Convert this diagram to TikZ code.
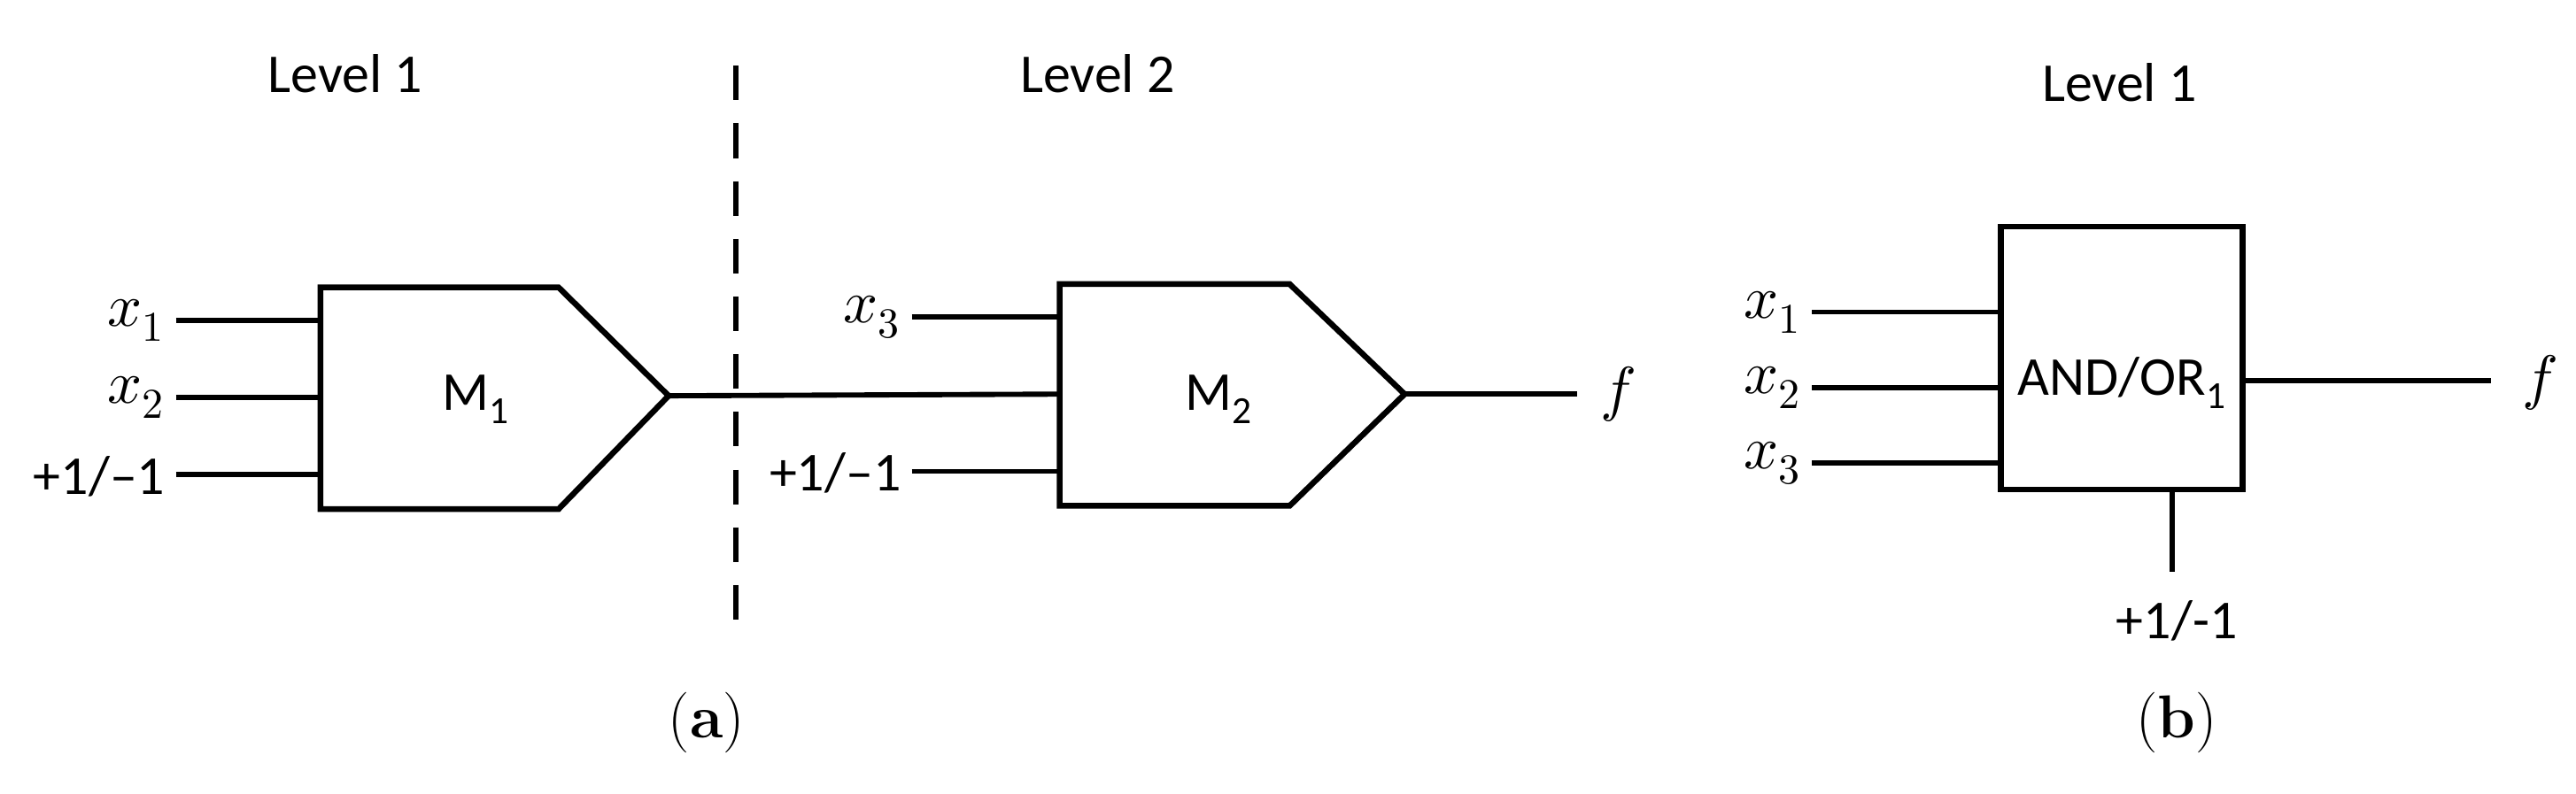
\documentclass[tikz,border=0pt]{standalone}
\usepackage{fontspec}
\setsansfont{Carlito}
\usepackage{unicode-math}
\begin{document}
\begin{tikzpicture}[x=0.02cm,y=-0.02cm,line width=1.8pt,
  lbl/.style={font=\fontsize{19}{22}\selectfont\sffamily,inner sep=0pt},
  mth/.style={font=\fontsize{21}{24}\selectfont,inner sep=0pt,anchor=east},
  captxt/.style={font=\fontsize{21}{24}\selectfont,inner sep=0pt}]
\useasboundingbox (0,0) rectangle (1568,483);
\node[lbl] (L1) at (210,45) {Level 1};
\node[lbl] (L2) at (668,45) {Level 2};
\node[lbl] (L3) at (1290,50) {Level 1};
% M1
\draw[line width=2pt] (195,175) -- (340,175) -- (407,241) -- (340,310) -- (195,310) -- cycle;
\node[lbl] (M1) at (290,243) {M\textsubscript{1}};
\coordinate (m1i1) at (195,195); \coordinate (m1i2) at (195,242); \coordinate (m1i3) at (195,289);
\coordinate (m1o) at (407,241);
\node[mth] (a1) at (102,195) {$x_1$};
\node[mth] (a2) at (102,242) {$x_2$};
\node[lbl,anchor=east] (a3) at (102,290) {+1/–1};
\draw (107,195) -- (m1i1); \draw (107,242) -- (m1i2); \draw (107,289) -- (m1i3);
% dashed
\draw[dashed,dash pattern=on 12pt off 8pt] (448,40) -- (448,378);
% M2
\draw[line width=2pt] (645,173) -- (785,173) -- (855,240) -- (785,308) -- (645,308) -- cycle;
\node[lbl] (M2) at (742,243) {M\textsubscript{2}};
\coordinate (m2i1) at (645,193); \coordinate (m2i2) at (645,240); \coordinate (m2i3) at (645,287);
\node[mth] (b1) at (550,193) {$x_3$};
\node[lbl,anchor=east] (b3) at (550,288) {+1/–1};
\draw (555,193) -- (m2i1); \draw (m1o) -- (m2i2); \draw (555,287) -- (m2i3);
\node[mth,anchor=center] (f1) at (985,240) {$f$};
\draw (855,240) -- (960,240);
% AND/OR
\draw[line width=2pt] (1218,138) rectangle (1365,298);
\node[lbl] (AO) at (1292,233) {AND/OR\textsubscript{1}};
\node[mth] (c1) at (1098,190) {$x_1$};
\node[mth] (c2) at (1098,236) {$x_2$};
\node[mth] (c3) at (1098,282) {$x_3$};
\draw (1103,190) -- (1218,190); \draw (1103,236) -- (1218,236); \draw (1103,282) -- (1218,282);
\draw (1365,232) -- (1516,232);
\node[mth,anchor=center] (f2) at (1546,233) {$f$};
\draw (1322,298) -- (1322,348);
\node[lbl] (c4) at (1325,378) {+1/-1};
\node[captxt] (ca) at (430,440) {(\textbf{a})};
\node[captxt] (cb) at (1325,440) {(\textbf{b})};
\end{tikzpicture}
\end{document}
